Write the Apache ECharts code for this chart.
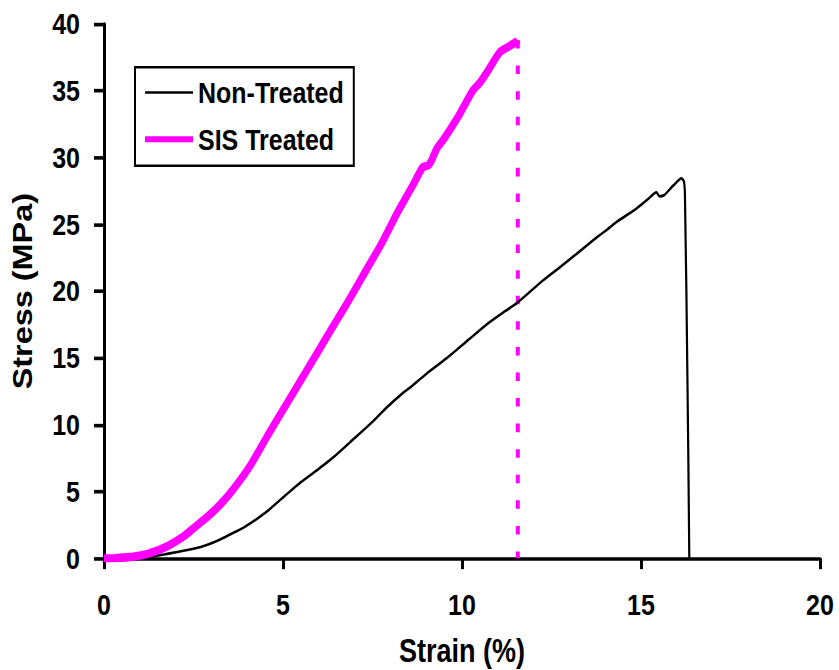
<!DOCTYPE html>
<html>
<head>
<meta charset="utf-8">
<script src="https://cdn.jsdelivr.net/npm/echarts@6/dist/echarts.min.js"></script>
<style>
  html, body { margin: 0; padding: 0; background: #fff; }
  #chart { width: 839px; height: 670px; }
  #chart svg { display: block; }
</style>
</head>
<body>
<div id="chart"></div>
<script>
// strain (%) / stress (MPa) pairs
var nonTreatedStrain = [0, 1.0, 1.8, 2.7, 3.2, 3.6, 3.9, 4.5, 5.02, 5.5, 6.0, 6.42, 7.0, 7.53, 7.9, 8.36, 8.6, 9.0, 9.58, 10.2, 10.78, 11.2, 11.53, 12.26, 12.74, 13.2, 13.66, 14.0, 14.33, 14.88, 15.2, 15.43, 15.52, 15.65, 15.9, 16.13, 16.2, 16.23, 16.3, 16.35];
var nonTreatedStress = [0, 0.02, 0.35, 0.85, 1.35, 1.9, 2.3, 3.4, 4.6, 5.7, 6.7, 7.6, 9.0, 10.3, 11.3, 12.4, 12.9, 13.8, 15.0, 16.4, 17.7, 18.5, 19.1, 20.8, 21.8, 22.8, 23.8, 24.5, 25.2, 26.2, 26.9, 27.4, 27.1, 27.2, 27.9, 28.45, 28.2, 26.9, 13, 0];

var sisStrain = [0, 0.3, 0.8, 1.3, 1.8, 2.2, 2.5, 2.84, 3.2, 3.62, 4.1, 4.55, 5.11, 5.67, 6.23, 6.79, 7.35, 7.8, 8.18, 8.6, 8.91, 9.05, 9.15, 9.3, 9.47, 9.9, 10.31, 10.5, 10.7, 11.06, 11.3, 11.53, 11.56];
var sisStress = [0, 0.02, 0.12, 0.4, 0.95, 1.6, 2.25, 3.0, 3.9, 5.2, 7.0, 9.1, 11.6, 14.1, 16.6, 19.1, 21.7, 23.8, 25.8, 27.8, 29.3, 29.4, 29.8, 30.7, 31.3, 33.1, 35.05, 35.6, 36.4, 37.9, 38.3, 38.7, 38.8];

// failure marker of SIS treated sample
var failureStrain = [11.56, 11.56];
var failureStress = [38.8, 0];

var xTicks = [0, 5, 10, 15, 20];
var yTicks = [0, 5, 10, 15, 20, 25, 30, 35, 40];

function pairs(xs, ys) {
  return xs.map(function (x, i) { return [x, ys[i]]; });
}

var font = "'Liberation Sans', Arial, sans-serif";

// the original figure is stretched vertically (tall narrow lettering):
// lay the chart out at 839x558, then stretch the svg to 670 high
var W = 839, H = 558, OUT_H = 670;
var chart = echarts.init(null, null, { renderer: 'svg', ssr: true, width: W, height: H });

var axisCommon = {
  type: 'value',
  splitLine: { show: false },
  axisLine: { show: true, lineStyle: { color: '#000', width: 3 } },
  nameMoveOverlap: false,
  nameTextStyle: { color: '#000', fontFamily: font, fontWeight: 'bold', fontSize: 27 }
};

chart.setOption({
  animation: false,
  backgroundColor: '#fff',
  grid: { left: 104, right: 19, top: 20, bottom: 93, containLabel: false, outerBoundsMode: 'none' },
  legend: {
    data: [
      { name: 'Non-Treated', icon: 'path://M0,0H48V2.1H0Z' },
      { name: 'SIS Treated', icon: 'path://M0,0H48V5H0Z' }
    ],
    orient: 'vertical',
    left: 135,
    top: 56,
    borderColor: '#000',
    borderWidth: 2,
    padding: [6, 10, 7, 10],
    itemWidth: 48,
    itemHeight: 14,
    itemGap: 9,
    textStyle: { color: '#000', fontFamily: font, fontWeight: 'bold', fontSize: 25, lineHeight: 30 }
  },
  xAxis: Object.assign({}, axisCommon, {
    min: xTicks[0],
    max: xTicks[xTicks.length - 1],
    interval: xTicks[1] - xTicks[0],
    name: 'Strain (%)',
    nameLocation: 'middle',
    nameGap: 63,
    axisTick: { show: true, inside: false, length: 9, lineStyle: { color: '#000', width: 3 } },
    axisLabel: { color: '#000', fontFamily: font, fontWeight: 'bold', fontSize: 25, margin: 26 }
  }),
  yAxis: Object.assign({}, axisCommon, {
    min: yTicks[0],
    max: yTicks[yTicks.length - 1],
    interval: yTicks[1] - yTicks[0],
    name: 'Stress (MPa)',
    nameLocation: 'middle',
    nameGap: 68,
    axisTick: { show: true, inside: false, length: 10, lineStyle: { color: '#000', width: 3 } },
    axisLabel: { color: '#000', fontFamily: font, fontWeight: 'bold', fontSize: 25, margin: 24 }
  }),
  series: [
    {
      name: 'Non-Treated',
      type: 'line',
      symbol: 'none',
      smooth: 0.25,
      data: pairs(nonTreatedStrain, nonTreatedStress),
      itemStyle: { color: '#000' },
      lineStyle: { color: '#000', width: 2.2 },
      z: 3
    },
    {
      name: 'SIS Treated',
      type: 'line',
      symbol: 'none',
      smooth: 0.25,
      data: pairs(sisStrain, sisStress),
      itemStyle: { color: '#ff00ff' },
      lineStyle: { color: '#ff00ff', width: 7 },
      z: 4
    },
    {
      name: 'failure',
      type: 'line',
      symbol: 'none',
      data: pairs(failureStrain, failureStress),
      lineStyle: { color: '#ff00ff', width: 4, type: [7.1, 14.2], cap: 'butt' },
      z: 2
    }
  ]
});

var box = document.getElementById('chart');
box.innerHTML = chart.renderToSVGString();
var svg = box.querySelector('svg');
svg.setAttribute('viewBox', '0 0 ' + W + ' ' + H);
svg.setAttribute('preserveAspectRatio', 'none');
svg.setAttribute('width', W);
svg.setAttribute('height', OUT_H);
svg.style.width = W + 'px';
svg.style.height = OUT_H + 'px';
</script>
</body>
</html>
